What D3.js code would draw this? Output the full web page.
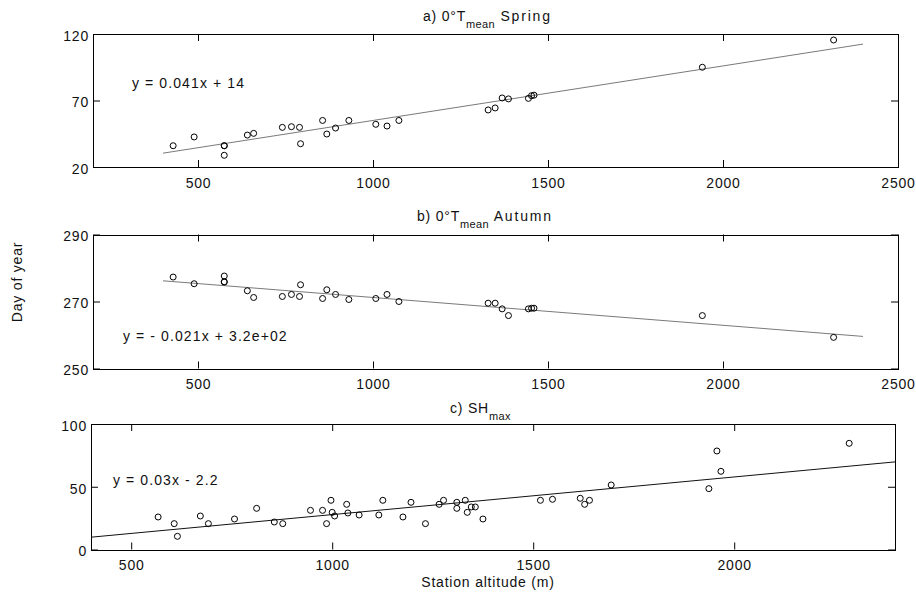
<!DOCTYPE html>
<html>
<head>
<meta charset="utf-8">
<script src="https://cdn.jsdelivr.net/npm/d3@7"></script>
<style>
  html, body { margin: 0; padding: 0; background: #fff; }
  svg { display: block; }
  text { font-family: "Liberation Sans", Arial, sans-serif; fill: #111; }
</style>
</head>
<body>
<svg id="chart" width="916" height="594"></svg>
<script>
// Station altitudes (m) used for the 0°T mean panels
const stationAltTmean = [429, 489, 575, 575, 575, 641, 659, 741, 767, 790, 793, 856, 868, 893, 931,
  1008, 1040, 1074, 1329, 1349, 1369, 1387, 1444, 1453, 1460, 1941, 2316];

// a) Spring: day of year of 0°T mean crossing
const springDay = [36, 42.6, 36, 36, 28.8, 44, 45.3, 49.8, 50.3, 49.8, 37.5, 55, 44.8, 49.3, 55,
  52.1, 50.8, 55, 62.9, 64.4, 71.9, 71.2, 71.6, 73.6, 74, 95, 115.5];

// b) Autumn: day of year of 0°T mean crossing
const autumnDay = [277.3, 275.3, 277.6, 275.8, 275.9, 273.2, 271.2, 271.5, 272.1, 271.5, 275.0, 270.9, 273.5, 272.1, 270.6,
  270.9, 272.1, 270.0, 269.5, 269.5, 267.8, 265.8, 267.8, 268.0, 268.0, 265.8, 259.3];

// c) SHmax: station altitudes and maximum snow height
const shAlt = [567, 607, 615, 672, 692, 757, 812, 856, 877, 946, 976, 986, 997, 1000, 1006, 1036, 1039,
  1067, 1116, 1126, 1176, 1196, 1232, 1266, 1277, 1310, 1310, 1331, 1336, 1346, 1356, 1375,
  1518, 1548, 1617, 1628, 1640, 1694, 1937, 1957, 1967, 2286];
const shMax = [25.9, 20.6, 10.5, 26.7, 20.6, 24.3, 32.8, 21.9, 20.6, 31.2, 31.2, 20.6, 39.2, 29.6, 26.7, 36.0, 29.1,
  27.5, 27.5, 39.2, 25.9, 37.6, 20.6, 36.0, 39.2, 37.6, 32.8, 39.2, 29.6, 33.9, 33.9, 24.3,
  39.2, 40.0, 40.8, 36.0, 39.2, 51.4, 48.5, 78.5, 62.3, 84.6];

// Fitted lines (slope, intercept) drawn over the altitude range
const fitSlope = [0.041, -0.0083, 0.03];
const fitIntercept = [14, 279.5, -2.2];
const fitRange = [400, 2400];

// Equation labels
const eqLabels = ["y = 0.041x + 14", "y = - 0.021x + 3.2e+02", "y = 0.03x - 2.2"];

// Axis domains and ticks
const xDomains = [[200, 2500], [200, 2500], [400, 2400]];
const yDomains = [[20, 120], [250, 290], [0, 100]];
const xTicks = [[500, 1000, 1500, 2000, 2500], [500, 1000, 1500, 2000, 2500], [500, 1000, 1500, 2000]];
const yTicks = [[20, 70, 120], [250, 270, 290], [0, 50, 100]];

// Panel titles: [prefix, subscript, suffix]
const titles = [["a) 0°T", "mean", " Spring"], ["b) 0°T", "mean", " Autumn"], ["c) SH", "max", ""]];

const FONT = "Liberation Sans, Arial, sans-serif";
const svg = d3.select("#chart");

const panels = [
  { box: { l: 93, r: 898, t: 34, b: 167 }, x: stationAltTmean, y: springDay, lineColor: "#7a7a7a",
    titleX: 423, titleY: 21, eqPos: [132, 88] },
  { box: { l: 93, r: 898, t: 234.5, b: 368.5 }, x: stationAltTmean, y: autumnDay, lineColor: "#7a7a7a",
    titleX: 417, titleY: 221, eqPos: [123, 341] },
  { box: { l: 91, r: 895, t: 424, b: 549.5 }, x: shAlt, y: shMax, lineColor: "#111",
    titleX: 450, titleY: 413, eqPos: [113, 484.5] }
];

panels.forEach((p, i) => {
  const { l, r, t, b } = p.box;
  const xs = d3.scaleLinear().domain(xDomains[i]).range([l, r]);
  const ys = d3.scaleLinear().domain(yDomains[i]).range([b, t]);
  const g = svg.append("g");

  // Bottom / left axes with labels; ticks drawn inward
  const tickLen = 7;
  const xAxis = d3.axisBottom(xs).tickValues(xTicks[i]).tickSize(-tickLen).tickPadding(11).tickFormat(d3.format("d"));
  const gx = g.append("g").attr("transform", `translate(0,${b})`).call(xAxis);
  gx.select(".domain").remove();
  gx.selectAll("line").attr("stroke", "#000");
  gx.selectAll("text").attr("font-size", 14).attr("fill", "#111")
    .attr("letter-spacing", 0.8).attr("font-family", FONT);

  const yAxis = d3.axisLeft(ys).tickValues(yTicks[i]).tickSize(-tickLen).tickPadding(4);
  const gy = g.append("g").attr("transform", `translate(${l},0)`).call(yAxis);
  gy.select(".domain").remove();
  gy.selectAll("line").attr("stroke", "#000");
  gy.selectAll("text").attr("font-size", 14).attr("fill", "#111").attr("dy", "0.45em")
    .attr("letter-spacing", 0.8).attr("font-family", FONT);

  // Mirrored ticks on top and right
  const gt = g.append("g").attr("transform", `translate(0,${t})`)
    .call(d3.axisTop(xs).tickValues(xTicks[i]).tickSize(-tickLen).tickFormat(""));
  gt.select(".domain").remove();
  gt.selectAll("line").attr("stroke", "#000");
  const gr = g.append("g").attr("transform", `translate(${r},0)`)
    .call(d3.axisRight(ys).tickValues(yTicks[i]).tickSize(-tickLen).tickFormat(""));
  gr.select(".domain").remove();
  gr.selectAll("line").attr("stroke", "#000");

  // Axes box
  g.append("rect")
    .attr("x", Math.round(l) + 0.5).attr("y", Math.round(t) + 0.5)
    .attr("width", Math.round(r) - Math.round(l)).attr("height", Math.round(b) - Math.round(t))
    .attr("fill", "none").attr("stroke", "#000").attr("stroke-width", 1);

  // Regression line
  const lineData = fitRange.map(xv => [xv, fitSlope[i] * xv + fitIntercept[i]]);
  g.append("path")
    .datum(lineData)
    .attr("d", d3.line().x(d => xs(d[0])).y(d => ys(d[1])))
    .attr("fill", "none").attr("stroke", p.lineColor).attr("stroke-width", 1);

  // Station points
  g.selectAll("circle.pt").data(p.x.map((xv, k) => [xv, p.y[k]])).join("circle")
    .attr("class", "pt")
    .attr("cx", d => xs(d[0])).attr("cy", d => ys(d[1]))
    .attr("r", 3).attr("fill", "none").attr("stroke", "#000").attr("stroke-width", 1);

  // Equation
  g.append("text").attr("x", p.eqPos[0]).attr("y", p.eqPos[1])
    .attr("font-size", 14).attr("letter-spacing", 1.1).text(eqLabels[i]);

  // Title with subscript
  const tt = g.append("text").attr("x", p.titleX).attr("y", p.titleY)
    .attr("font-size", 14).attr("letter-spacing", 0.8);
  tt.append("tspan").text(titles[i][0]);
  tt.append("tspan").attr("font-size", 11).attr("letter-spacing", 0.3).attr("dy", 7).text(titles[i][1]);
  if (titles[i][2]) tt.append("tspan").attr("dy", -7).attr("letter-spacing", 1.8).text(titles[i][2]);
});

// Shared axis labels
svg.append("text")
  .attr("transform", "translate(22,282) rotate(-90)")
  .attr("text-anchor", "middle").attr("font-size", 14).attr("letter-spacing", 0.8)
  .text("Day of year");

svg.append("text")
  .attr("x", 488).attr("y", 587)
  .attr("text-anchor", "middle").attr("font-size", 14).attr("letter-spacing", 0.8)
  .text("Station altitude (m)");
</script>
</body>
</html>
